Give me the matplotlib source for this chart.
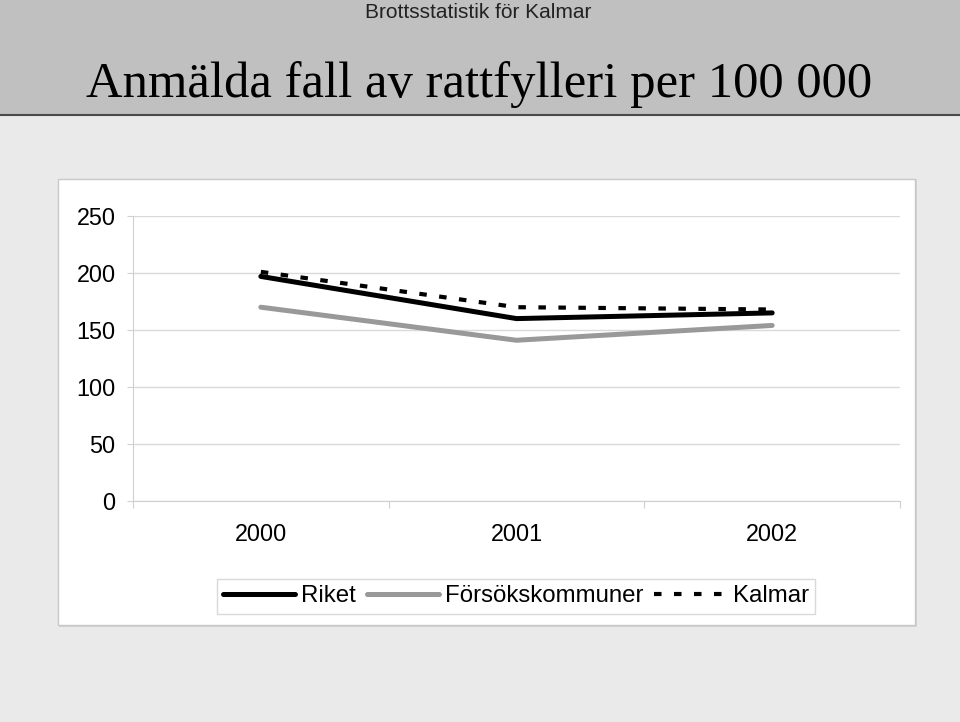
import numpy as np
import matplotlib.pyplot as plt
from matplotlib.patches import Rectangle
from matplotlib.lines import Line2D

# Anmälda fall av rattfylleri per 100 000 invånare

years = ["2000", "2001", "2002"]
riket = [197, 160, 165]
forsok = [170, 141, 154]
kalmar = [201, 170, 168]
yticks = [0, 50, 100, 150, 200, 250]

W, H = 960, 722
fig = plt.figure(figsize=(W / 100, H / 100), dpi=100)
fig.patch.set_facecolor("#EAEAEA")

def px(x, y, w, h):
    # pixel box (top-left origin) -> figure fraction
    return [x / W, 1 - (y + h) / H, w / W, h / H]

# header band
fig.patches.append(Rectangle((0, 1 - 114 / H), 1, 114 / H, transform=fig.transFigure,
                             facecolor="#C0C0C0", edgecolor="none", zorder=0))
fig.add_artist(Line2D([0, 1], [1 - 115 / H, 1 - 115 / H], transform=fig.transFigure,
                      color="#4A4A4A", lw=1.5))
fig.text(478 / W, 1 - 18 / H, "Brottsstatistik för Kalmar", ha="center", va="baseline",
         fontsize=15, family="Liberation Sans", color="#222222")
fig.text(479 / W, 1 - 97 / H, "Anmälda fall av rattfylleri per 100 000", ha="center",
         va="baseline", fontsize=36.5, family="Liberation Serif", color="black")

# white chart box
fig.patches.append(Rectangle((59 / W, 1 - 627 / H), 858 / W, 448 / H, transform=fig.transFigure,
                             facecolor="#D4D4D4", edgecolor="none", zorder=0))
fig.patches.append(Rectangle((58 / W, 1 - 625 / H), 857 / W, 446 / H, transform=fig.transFigure,
                             facecolor="white", edgecolor="#C8C8C8", lw=1, zorder=0))

ax = fig.add_axes(px(133, 216, 767, 285))
ax.set_zorder(2)
ax.set_facecolor("none")
x = np.arange(len(years))
ax.plot(x, riket, color="black", lw=3.6, solid_capstyle="round", label="Riket", zorder=3)
ax.plot(x, forsok, color="#999999", lw=3.6, solid_capstyle="round", label="Försökskommuner", zorder=3)
ax.plot(x, kalmar, color="black", lw=3, dashes=(1.8, 3.0), dash_capstyle="butt",
        label="Kalmar", zorder=4)

ax.set_xlim(-0.5, 2.5)
ax.set_ylim(0, 250)
ax.set_yticks(yticks)
ax.set_yticklabels([str(v) for v in yticks])
ax.yaxis.grid(True, color="#D9D9D9", lw=1)
ax.set_axisbelow(True)
ax.set_xticks([-0.5, 0.5, 1.5, 2.5])
ax.set_xticklabels([])
ax.set_xticks(x, minor=True)
ax.set_xticklabels(years, minor=True)
ax.tick_params(axis="x", which="major", length=5, color="#D0D0D0")
ax.tick_params(axis="x", which="minor", length=0, pad=16, labelsize=16.8)
ax.tick_params(axis="y", length=4.5, color="#D0D0D0", pad=8, labelsize=16.8)
for t in ax.get_xticklabels(minor=True) + ax.get_yticklabels():
    t.set_family("Liberation Sans")
for s in ["top", "right"]:
    ax.spines[s].set_visible(False)
for s in ["left", "bottom"]:
    ax.spines[s].set_color("#D0D0D0")

leg = fig.legend(loc="center", bbox_to_anchor=(516 / W, 1 - 596.5 / H), ncol=3,
                 prop={"family": "Liberation Sans", "size": 17.3}, handlelength=3.0,
                 handletextpad=0.25, columnspacing=0.45, fancybox=False,
                 edgecolor="#D0D0D0", borderpad=0.25, borderaxespad=0)
leg.get_frame().set_linewidth(1)
leg.set_zorder(3)

fig.savefig("out.png", dpi=100, facecolor=fig.get_facecolor())
